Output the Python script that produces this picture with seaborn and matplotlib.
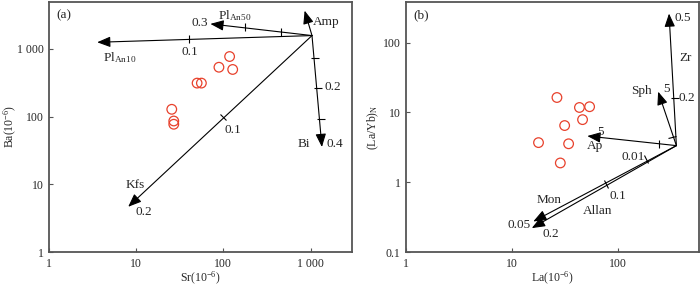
import matplotlib
matplotlib.use('Agg')
import matplotlib.pyplot as plt
import matplotlib.ticker as mticker
from matplotlib.markers import MarkerStyle
from matplotlib.transforms import Affine2D
import numpy as np
import pandas as pd
import seaborn as sns

sns.set_style('ticks')
plt.rcParams['font.family'] = ['Liberation Serif', 'DejaVu Serif']
plt.rcParams['mathtext.fontset'] = 'custom'
plt.rcParams['mathtext.rm'] = 'Liberation Serif'
plt.rcParams['mathtext.it'] = 'Liberation Serif:italic'

RED = '#e8412c'
SPINE = '#555555'

# ---- panel (a): Sr vs Ba ----
sr = [118, 89, 128, 50, 56, 25.6, 27, 27]
ba = [770, 535, 496, 312, 312, 128, 86, 77]

a_origin = (1040, 1570)
a_vectors = {
    'Amp': (856, 3665),
    'Bi': (1352, 35.5),
    'PlAn50': (71, 2335),
    'PlAn10': (3.57, 1250),
    'Kfs': (8.1, 4.65),
}
a_ticks = {
    'Bi': [(1135, 737), (1216, 267), (1306, 93)],
    'PlAn50': [(179, 2080), (463, 1798)],
    'PlAn10': [(40, 1403)],
    'Kfs': [(99, 98)],
}
a_labels = [
    (r'Pl$_{\rm An50}$', 86, 3100, 'left'),
    ('0.3', 66, 2440, 'right'),
    ('Amp', 1057, 2525, 'left'),
    (r'Pl$_{\rm An10}$', 4.2, 745, 'left'),
    ('0.1', 41, 883, 'center'),
    ('0.2', 1450, 269, 'left'),
    ('Bi', 1000, 40, 'right'),
    ('0.4', 1528, 40, 'left'),
    ('0.1', 104, 63, 'left'),
    ('Kfs', 9.7, 9.7, 'center'),
    ('0.2', 12.1, 3.9, 'center'),
]

# ---- panel (b): La vs (La/Yb)N ----
la = [26.4, 43, 53.6, 46, 31.2, 17.7, 34, 28.4]
layb = [16.4, 11.8, 12.1, 7.9, 6.5, 3.7, 3.56, 1.89]

b_origin = (352, 3.35)
b_vectors = {
    'Zr': (300, 262),
    'Sph': (237, 19.9),
    'Ap': (51, 4.6),
    'Mon': (15.8, 0.274),
    'Allan': (15.3, 0.22),
}
b_ticks = {
    'Zr': [(344, 16.3)],
    'Sph': [(320, 4.5)],
    'Ap': [(240, 3.54)],
    'Mon': [(184, 2.14)],
    'Allan': [(76, 0.94)],
}
b_labels = [
    ('0.5', 340, 225, 'left'),
    ('Zr', 378, 60, 'left'),
    ('0.2', 370, 16.3, 'left'),
    ('Sph', 206, 20.5, 'right'),
    ('5', 262, 21.7, 'left'),
    ('5', 68.5, 5.3, 'center'),
    ('Ap', 50.6, 3.35, 'left'),
    ('0.01', 177, 2.29, 'right'),
    ('0.1', 83, 0.64, 'left'),
    ('Mon', 22.5, 0.56, 'center'),
    ('Allan', 63.5, 0.39, 'center'),
    ('0.05', 14.8, 0.24, 'right'),
    ('0.2', 19.1, 0.183, 'left'),
]

fig = plt.figure(figsize=(7.0, 2.89), dpi=100)
ax_a = fig.add_axes([0.07, 0.128, 0.433, 0.8668])
ax_b = fig.add_axes([0.58, 0.128, 0.4186, 0.8668])


def style_axis(ax, xlim, ylim, xt, xtl, yt, ytl, tag):
    ax.set_xscale('log')
    ax.set_yscale('log')
    ax.set_xlim(*xlim)
    ax.set_ylim(*ylim)
    ax.xaxis.set_major_locator(mticker.FixedLocator(xt))
    ax.xaxis.set_major_formatter(mticker.FixedFormatter(xtl))
    ax.yaxis.set_major_locator(mticker.FixedLocator(yt))
    ax.yaxis.set_major_formatter(mticker.FixedFormatter(ytl))
    ax.xaxis.set_minor_locator(mticker.NullLocator())
    ax.yaxis.set_minor_locator(mticker.NullLocator())
    ax.tick_params(direction='in', length=3, width=0.8, color=SPINE,
                   labelsize=8.5, pad=4)
    for s in ax.spines.values():
        s.set_visible(True)
        s.set_color(SPINE)
        s.set_linewidth(1.3)
    ax.text(0.025, 0.945, tag, transform=ax.transAxes, fontsize=9.5,
            ha='left', va='center')


def draw_vectors(ax, origin, vectors, ticks):
    for name, tip in vectors.items():
        ax.annotate('', xy=tip, xytext=origin,
                    arrowprops=dict(arrowstyle='-|>,head_length=0.8,head_width=0.32',
                                    mutation_scale=10, lw=0.8, color='k',
                                    shrinkA=0, shrinkB=0))
        # perpendicular tick marks along the vector
        p0 = ax.transData.transform(origin)
        p1 = ax.transData.transform(tip)
        ang = np.degrees(np.arctan2(p1[1] - p0[1], p1[0] - p0[0]))
        mk = MarkerStyle('|', transform=Affine2D().rotate_deg(ang))
        for tx, ty in ticks.get(name, []):
            ax.plot([tx], [ty], linestyle='none', marker=mk, markersize=6,
                    markeredgewidth=0.8, color='k')


def draw_labels(ax, labels):
    for txt, x, y, ha in labels:
        ax.text(x, y, txt, fontsize=9.5, ha=ha, va='center')


style_axis(ax_a, (1, 3000), (1, 5000),
           [1, 10, 100, 1000], ['1', '10', '100', '1 000'],
           [1, 10, 100, 1000], ['1', '10', '100', '1 000'], '(a)')
style_axis(ax_b, (1, 575), (0.1, 390),
           [1, 10, 100], ['1', '10', '100'],
           [0.1, 1, 10, 100], ['0.1', '1', '10', '100'], '(b)')

df_a = pd.DataFrame({'Sr': sr, 'Ba': ba})
df_b = pd.DataFrame({'La': la, 'LaYb': layb})
sns.scatterplot(data=df_a, x='Sr', y='Ba', ax=ax_a, marker='o', s=48,
                color=RED, facecolor='none', edgecolor=RED, linewidth=0.9, zorder=3)
sns.scatterplot(data=df_b, x='La', y='LaYb', ax=ax_b, marker='o', s=48,
                color=RED, facecolor='none', edgecolor=RED, linewidth=0.9, zorder=3)

ax_a.set_xlabel(r'Sr(10$^{-6}$)', fontsize=8.5)
ax_a.set_ylabel(r'Ba(10$^{-6}$)', fontsize=8.5)
ax_b.set_xlabel(r'La(10$^{-6}$)', fontsize=8.5)
ax_b.set_ylabel(r'(La/Yb)$_{\rm N}$', fontsize=8.5)
ax_a.xaxis.set_label_coords(0.5, -0.072)
ax_b.xaxis.set_label_coords(0.5, -0.072)
ax_a.yaxis.set_label_coords(-0.098, 0.5)
ax_b.yaxis.set_label_coords(-0.085, 0.5)

draw_vectors(ax_a, a_origin, a_vectors, a_ticks)
draw_vectors(ax_b, b_origin, b_vectors, b_ticks)
draw_labels(ax_a, a_labels)
draw_labels(ax_b, b_labels)

fig.savefig('out.png', dpi=100)
